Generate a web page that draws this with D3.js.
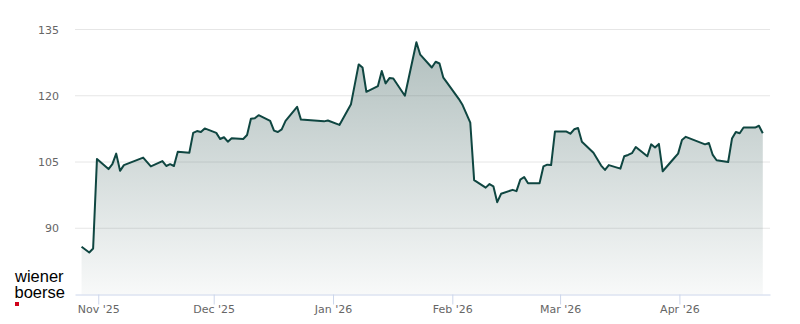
<!DOCTYPE html>
<html>
<head>
<meta charset="utf-8">
<script src="https://cdn.jsdelivr.net/npm/d3@7"></script>
<style>
  body { margin: 0; background: #fff; }
  #chart text { font-family: "DejaVu Sans", sans-serif; }
</style>
</head>
<body>
<div id="chart"></div>
<script>
// closing prices, trading days only
var dates = [
  "2025-10-27", "2025-10-29", "2025-10-30", "2025-10-31", "2025-11-03", "2025-11-04",
  "2025-11-05", "2025-11-06", "2025-11-07", "2025-11-12", "2025-11-14", "2025-11-17",
  "2025-11-18", "2025-11-19", "2025-11-20", "2025-11-21", "2025-11-24", "2025-11-25",
  "2025-11-26", "2025-11-27", "2025-11-28", "2025-12-01", "2025-12-02", "2025-12-03",
  "2025-12-04", "2025-12-05", "2025-12-08", "2025-12-09", "2025-12-10", "2025-12-11",
  "2025-12-12", "2025-12-15", "2025-12-16", "2025-12-17", "2025-12-18", "2025-12-19",
  "2025-12-22", "2025-12-23", "2025-12-29", "2025-12-30", "2026-01-02", "2026-01-05",
  "2026-01-07", "2026-01-08", "2026-01-09", "2026-01-12", "2026-01-13", "2026-01-14",
  "2026-01-15", "2026-01-16", "2026-01-19", "2026-01-22", "2026-01-23", "2026-01-26",
  "2026-01-27", "2026-01-28", "2026-01-29", "2026-01-30", "2026-02-02", "2026-02-03",
  "2026-02-05", "2026-02-06", "2026-02-09", "2026-02-10", "2026-02-11", "2026-02-12",
  "2026-02-13", "2026-02-16", "2026-02-17", "2026-02-18", "2026-02-19", "2026-02-20",
  "2026-02-23", "2026-02-24", "2026-02-25", "2026-02-26", "2026-02-27", "2026-03-02",
  "2026-03-03", "2026-03-04", "2026-03-05", "2026-03-06", "2026-03-09", "2026-03-11",
  "2026-03-12", "2026-03-13", "2026-03-16", "2026-03-17", "2026-03-18", "2026-03-19",
  "2026-03-20", "2026-03-23", "2026-03-24", "2026-03-25", "2026-03-26", "2026-03-27",
  "2026-03-30", "2026-03-31", "2026-04-01", "2026-04-02", "2026-04-07", "2026-04-08",
  "2026-04-09", "2026-04-10", "2026-04-13", "2026-04-14", "2026-04-15", "2026-04-16",
  "2026-04-17", "2026-04-20", "2026-04-21", "2026-04-22"
];
var prices = [
  85.8, 84.5, 85.4, 105.7, 103.4, 104.5,
  106.9, 103.0, 104.3, 106.0, 104.0, 105.2,
  104.1, 104.5, 104.1, 107.3, 107.1, 111.6,
  112.0, 111.8, 112.6, 111.6, 110.2, 110.6,
  109.6, 110.4, 110.2, 111.1, 114.8, 114.9,
  115.6, 114.3, 112.1, 111.8, 112.4, 114.3,
  117.5, 114.6, 114.2, 114.4, 113.4, 118.1,
  127.1, 126.4, 120.9, 122.2, 125.6, 122.8,
  124.0, 123.9, 120.0, 132.1, 129.3, 126.4,
  127.7, 127.3, 124.1, 122.9, 119.3, 117.9,
  113.9, 100.9, 99.2, 100.0, 99.5, 95.9,
  97.8, 98.7, 98.4, 101.0, 101.6, 100.2,
  100.2, 104.0, 104.4, 104.3, 111.9, 111.9,
  111.4, 112.4, 112.7, 109.6, 107.1, 104.2,
  103.2, 104.3, 103.5, 106.3, 106.6, 107.0,
  108.4, 106.3, 109.0, 108.3, 109.1, 102.9,
  105.9, 106.9, 110.0, 110.7, 109.0, 109.3,
  106.6, 105.4, 105.0, 110.3, 111.8, 111.5,
  112.8, 112.8, 113.2, 111.5
];
var yTicks = [90, 105, 120, 135];
var yDomain = [75, 135];

var width = 800,
  height = 324;
var plotLeft = 75, plotRight = 770, plotTop = 29.5, plotBottom = 294.5;

var lineColor = "#0f4641";

var parse = d3.utcParse("%Y-%m-%d");
// prices are stamped at the afternoon close
var data = dates.map(function (d, i) {
  return { date: d3.utcHour.offset(parse(d), 16), value: prices[i] };
});

var svg = d3.select("#chart")
  .append("svg")
  .attr("width", width)
  .attr("height", height);

var first = data[0].date, last = data[data.length - 1].date;
var x = d3.scaleUtc()
  .domain([d3.utcHour.offset(first, -41), d3.utcHour.offset(last, 45)])
  .range([plotLeft, plotRight]);

var y = d3.scaleLinear()
  .domain(yDomain)
  .range([plotBottom, plotTop]);

// gradient under the line
var grad = svg.append("defs").append("linearGradient")
  .attr("id", "fillGrad")
  .attr("gradientUnits", "userSpaceOnUse")
  .attr("x1", 0).attr("x2", 0)
  .attr("y1", plotTop).attr("y2", plotBottom);
grad.append("stop").attr("offset", 0).attr("stop-color", "#4a6b68").attr("stop-opacity", 0.45);
grad.append("stop").attr("offset", 1).attr("stop-color", "#4a6b68").attr("stop-opacity", 0.04);

// grid lines
svg.append("g")
  .selectAll("line")
  .data(yTicks)
  .join("line")
  .attr("x1", plotLeft)
  .attr("x2", plotRight)
  .attr("y1", d => y(d))
  .attr("y2", d => y(d))
  .attr("stroke", "#e6e6e6")
  .attr("stroke-width", 1);

svg.append("g")
  .selectAll("text")
  .data(yTicks)
  .join("text")
  .attr("x", 59)
  .attr("y", d => y(d) + 4)
  .attr("text-anchor", "end")
  .attr("fill", "#666666")
  .style("font-size", "11px")
  .text(d => d);

var area = d3.area()
  .x(d => x(d.date))
  .y0(y(yDomain[0]))
  .y1(d => y(d.value));

var line = d3.line()
  .x(d => x(d.date))
  .y(d => y(d.value));

svg.append("path")
  .datum(data)
  .attr("d", area)
  .attr("fill", "url(#fillGrad)");

svg.append("path")
  .datum(data)
  .attr("d", line)
  .attr("fill", "none")
  .attr("stroke", lineColor)
  .attr("stroke-width", 2)
  .attr("stroke-linejoin", "round");

// x axis
var xAxis = svg.append("g")
  .attr("transform", "translate(0," + plotBottom + ")")
  .call(d3.axisBottom(x)
    .ticks(d3.utcMonth.every(1))
    .tickFormat(d3.utcFormat("%b '%y"))
    .tickSize(10)
    .tickSizeOuter(0)
    .tickPadding(1));

xAxis.select(".domain").attr("stroke", "#ccd6eb");
xAxis.selectAll(".tick line").attr("stroke", "#ccd6eb");
xAxis.selectAll(".tick text")
  .attr("fill", "#666666")
  .style("font-size", "11px")
  .style("font-family", "DejaVu Sans, sans-serif");

// logo
var logo = svg.append("g");
logo.append("text")
  .attr("x", 15)
  .attr("y", 282)
  .style("font-family", "Liberation Sans, Arial, sans-serif")
  .style("font-size", "16.5px")
  .attr("fill", "#000")
  .text("wiener");
logo.append("text")
  .attr("x", 14.5)
  .attr("y", 297.5)
  .style("font-family", "Liberation Sans, Arial, sans-serif")
  .style("font-size", "16.5px")
  .attr("fill", "#000")
  .text("boerse");
logo.append("rect")
  .attr("x", 15)
  .attr("y", 302)
  .attr("width", 4)
  .attr("height", 4)
  .attr("fill", "#d0021b");
</script>
</body>
</html>
